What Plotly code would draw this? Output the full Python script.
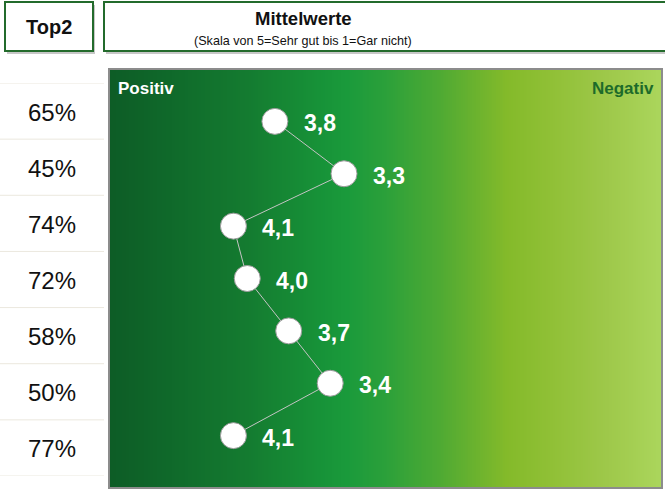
import plotly.graph_objects as go
import numpy as np

# ---- data ----
means = [3.8, 3.3, 4.1, 4.0, 3.7, 3.4, 4.1]
mean_labels = ["3,8", "3,3", "4,1", "4,0", "3,7", "3,4", "4,1"]
top2 = ["65%", "45%", "74%", "72%", "58%", "50%", "77%"]
rows = list(range(len(means)))

W, H = 665, 489
FONT = "Liberation Sans, Arial, sans-serif"

def px(x):
    return x / W

def py(y):
    return 1 - y / H

fig = go.Figure()

# gradient background (heatmap spanning plot area)
N = 300
xe = np.linspace(5, 1, N + 1)
zfrac = [[(i + 0.5) / N for i in range(N)]]
cscale = [
    [0.00, "#0d5c26"],
    [0.10, "#0f682a"],
    [0.25, "#147b30"],
    [0.38, "#179238"],
    [0.43, "#1a9a3b"],
    [0.50, "#2ba03a"],
    [0.60, "#4faa33"],
    [0.72, "#84ba2a"],
    [0.80, "#90c036"],
    [0.90, "#9ec84a"],
    [1.00, "#abd65c"],
]
fig.add_trace(go.Heatmap(
    x=xe, y=[-1, 7], z=zfrac, colorscale=cscale, zmin=0, zmax=1,
    showscale=False, hoverinfo="skip", xaxis="x", yaxis="y",
))

# connecting line + markers
fig.add_trace(go.Scatter(
    x=means, y=rows, mode="lines+markers",
    line=dict(color="#c4c4c4", width=1),
    marker=dict(size=26, color="white", line=dict(color="#9a9a9a", width=1)),
    hoverinfo="skip", xaxis="x", yaxis="y",
))

# value labels
for v, r, t in zip(means, rows, mean_labels):
    fig.add_annotation(
        x=v, y=r, xref="x", yref="y", text=f"<b>{t}</b>", showarrow=False,
        xanchor="left", yanchor="middle", xshift=27, yshift=-2,
        font=dict(family=FONT, size=23, color="white"),
    )

# Top2 percentages in the left column
for r, t in zip(rows, top2):
    fig.add_annotation(
        x=0.5, y=r, xref="x2", yref="y2", text=t, showarrow=False,
        xanchor="center", yanchor="middle", yshift=-1,
        font=dict(family=FONT, size=24, color="#111111"),
    )

shapes = []
# row separators
for i in range(len(top2) + 1):
    shapes.append(dict(type="line", xref="x2", yref="y2", x0=0, x1=1,
                       y0=i - 0.5, y1=i - 0.5,
                       line=dict(color="#ebe8de", width=1), layer="below"))

# plot border
shapes.append(dict(type="rect", xref="x domain", yref="y domain",
                   x0=0, x1=1, y0=0, y1=1,
                   line=dict(color="#8c8c8c", width=2)))

# header boxes with shadows
def box(x0, y0, x1, y1):
    shapes.append(dict(type="rect", xref="paper", yref="paper",
                       x0=px(x0 + 2), x1=px(x1 + 2), y0=py(y1 + 3), y1=py(y0 + 3),
                       fillcolor="rgba(0,0,0,0.22)", line=dict(width=0)))
    shapes.append(dict(type="rect", xref="paper", yref="paper",
                       x0=px(x0), x1=px(x1), y0=py(y1), y1=py(y0),
                       fillcolor="white", line=dict(color="#236b2c", width=2)))

box(5, 2, 93, 51)
box(104, 2, 668, 51)

def ann(x, y, text, size, color, xanchor="center"):
    return dict(x=px(x), y=py(y), xref="paper", yref="paper", text=text,
                showarrow=False, xanchor=xanchor, yanchor="middle",
                font=dict(family=FONT, size=size, color=color))

annotations = [
    ann(49, 27, "<b>Top2</b>", 20, "#111111"),
    ann(303, 19, "<b>Mittelwerte</b>", 18.5, "#111111"),
    ann(303, 41, "(Skala von 5=Sehr gut bis 1=Gar nicht)", 12.6, "#111111"),
    ann(116, 88, "<b>Positiv</b>", 17, "white", "left"),
    ann(656, 88, "<b>Negativ</b>", 17, "#1d6b2a", "right"),
]

fig.update_layout(
    width=W, height=H, margin=dict(l=0, r=0, t=0, b=0),
    paper_bgcolor="white", plot_bgcolor="white", showlegend=False,
    xaxis=dict(domain=[px(109), px(662)], range=[5, 1], visible=False, fixedrange=True),
    yaxis=dict(domain=[py(488), py(69)], range=[7, -1], visible=False, fixedrange=True),
    xaxis2=dict(domain=[0, px(104)], range=[0, 1], visible=False, anchor="y2"),
    yaxis2=dict(domain=[py(476), py(83)], range=[6.5, -0.5], visible=False, anchor="x2"),
    shapes=shapes,
    annotations=fig.layout.annotations + tuple(annotations),
)

fig.write_html("out.html", config={"displayModeBar": False},
               post_script="document.body.style.margin='0';document.body.style.overflow='hidden';")
